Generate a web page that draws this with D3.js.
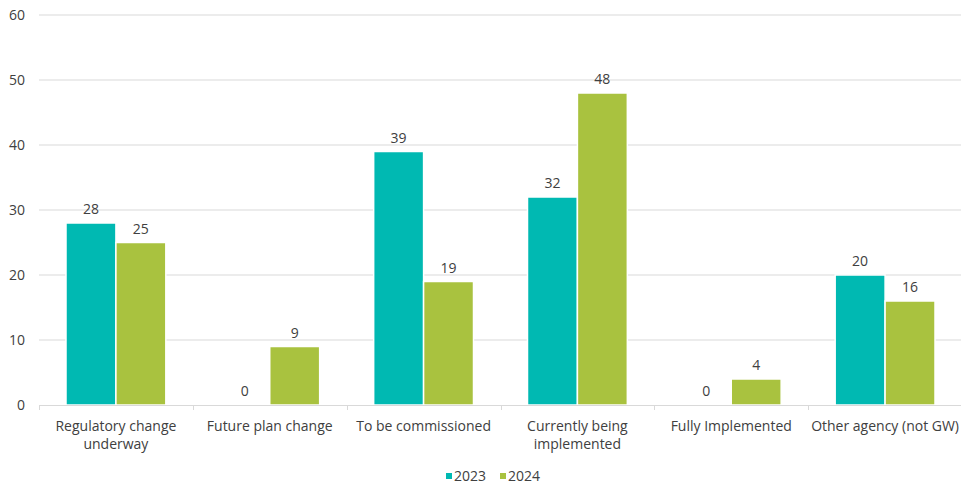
<!DOCTYPE html>
<html>
<head>
<meta charset="utf-8">
<script src="https://cdn.jsdelivr.net/npm/d3@7"></script>
<style>
  body { margin: 0; background: #fff; }
  text { font-family: "Open Sans", "Liberation Sans", sans-serif; fill: #404040; }
</style>
</head>
<body>
<div id="graph"></div>
<script>
// data
var categories = [["Regulatory change", "underway"], ["Future plan change"], ["To be commissioned"],
                  ["Currently being", "implemented"], ["Fully Implemented"], ["Other agency (not GW)"]];
var seriesNames = ["2023", "2024"];
var values2023 = [28, 0, 39, 32, 0, 20];
var values2024 = [25, 9, 19, 48, 4, 16];
var yTicks = [0, 10, 20, 30, 40, 50, 60];
var colors = ["#00B9B2", "#A9C23F"];

var fs = "14px";

var margin = {top: 15, right: -1, bottom: 81, left: 39},
    width = 961 - margin.left - margin.right,
    height = 486 - margin.top - margin.bottom;

var svg = d3.select("#graph").append("svg")
    .attr("width", 961).attr("height", 486)
  .append("g")
    .attr("transform", "translate(" + margin.left + "," + margin.top + ")");

var x0 = d3.scaleBand().domain(d3.range(categories.length)).range([0, width]).paddingInner(0).paddingOuter(0);
var x1 = d3.scaleBand().domain(seriesNames).range([27, x0.bandwidth() - 27]);
var y = d3.scaleLinear().domain([0, 60]).range([height, 0]);

// gridlines
svg.append("g").selectAll("line").data(yTicks.slice(1)).enter().append("line")
    .attr("x1", 0).attr("x2", width)
    .attr("y1", function(d) { return y(d); }).attr("y2", function(d) { return y(d); })
    .style("stroke", "#d9d9d9").style("stroke-width", 1);

// y labels
svg.append("g").selectAll("text").data(yTicks).enter().append("text")
    .attr("x", -14).attr("y", function(d) { return y(d); }).attr("dy", "0.35em")
    .attr("text-anchor", "end").style("font-size", fs)
    .text(function(d) { return d; });

// bars
var series = [values2023, values2024];
var group = svg.selectAll(".grp").data(categories).enter().append("g")
    .attr("transform", function(d, i) { return "translate(" + x0(i) + ",0)"; });

seriesNames.forEach(function(s, si) {
  group.append("rect")
      .attr("x", function(d, i) { return x1(s); })
      .attr("y", function(d, i) { return y(series[si][i]); })
      .attr("width", x1.bandwidth())
      .attr("height", function(d, i) { return height - y(series[si][i]); })
      .style("fill", colors[si])
      .style("stroke", "#fff").style("stroke-width", 1.5);
  group.append("text")
      .attr("x", function(d, i) { return x1(s) + x1.bandwidth() / 2; })
      .attr("y", function(d, i) { return y(series[si][i]) - 9; })
      .attr("text-anchor", "middle").style("font-size", fs)
      .text(function(d, i) { return series[si][i]; });
});

// x axis
svg.append("line").attr("x1", 0).attr("x2", width).attr("y1", height + 0.5).attr("y2", height + 0.5)
    .style("stroke", "#d9d9d9");
svg.append("g").selectAll("line").data(d3.range(categories.length + 1)).enter().append("line")
    .attr("x1", function(d) { return Math.round(d * x0.step()) + 0.5; })
    .attr("x2", function(d) { return Math.round(d * x0.step()) + 0.5; })
    .attr("y1", height).attr("y2", height + 5)
    .style("stroke", "#d9d9d9");

var xl = group.append("text")
    .attr("x", x0.bandwidth() / 2).attr("y", height + 26)
    .attr("text-anchor", "middle").style("font-size", fs);
xl.selectAll("tspan").data(function(d) { return d; }).enter().append("tspan")
    .attr("x", x0.bandwidth() / 2).attr("dy", function(d, i) { return i ? 18 : 0; })
    .text(function(d) { return d; });

// legend
var legend = svg.append("g").attr("transform", "translate(" + (446 - margin.left) + "," + (476 - margin.top) + ")");
seriesNames.forEach(function(s, i) {
  var g = legend.append("g").attr("transform", "translate(" + (i * 54) + ",0)");
  g.append("rect").attr("x", 0).attr("y", -3).attr("width", 6).attr("height", 6).style("fill", colors[i]);
  g.append("text").attr("x", 8).attr("y", 0).attr("dy", "0.35em").style("font-size", fs).text(s);
});
</script>
</body>
</html>
